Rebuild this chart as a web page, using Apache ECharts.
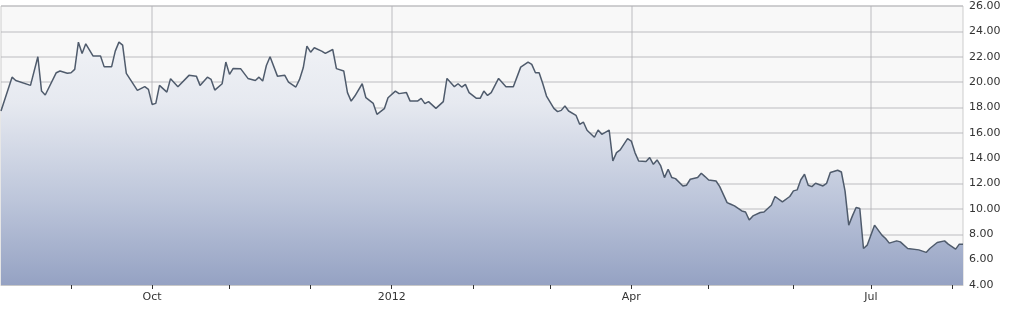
<!DOCTYPE html>
<html>
<head>
<meta charset="utf-8">
<script src="https://cdn.jsdelivr.net/npm/echarts@6/dist/echarts.min.js"></script>
<style>
html,body{margin:0;padding:0;background:#fff;}
#chart{width:1028px;height:314px;}
</style>
</head>
<body>
<div id="chart"></div>
<script>
// Trading-session calendar (weekdays) shown on the x axis
const firstDay = '2011-08-05';
const lastDay = '2012-08-06';

// Quarter labels on the x axis
const quarterDates = ['2011-10-03', '2012-01-02', '2012-04-02', '2012-07-02'];
const quarterLabels = ['Oct', '2012', 'Apr', 'Jul'];

// Y axis ticks
const yMin = 4, yMax = 26, yStep = 2;

// Price readings: session number (from firstDay) and closing price
const sessions = [
  0,3,4,8,10,11,12,15,16,18,19,20,21,22,23,25,27,28,30,31,32,33,34,37,39,40,41,42,43,45,46,48,
  51,53,54,56,57,58,60,61,62,63,65,67,68,69,70,71,72,73,75,77,78,80,81,82,83,84,85,87,88,90,91,93,94,95,96,98,99,
  101,102,104,105,107,108,110,111,113,114,115,116,118,120,121,123,124,125,126,127,129,130,131,132,133,135,137,139,
  141,143,144,145,146,147,148,150,151,152,153,154,156,157,158,159,161,162,163,165,166,167,168,170,171,172,173,175,176,177,178,179,
  180,181,182,183,185,186,187,189,190,191,192,194,195,197,198,199,201,202,203,204,206,207,209,210,212,214,215,216,217,218,219,
  220,221,223,224,225,227,228,229,230,231,232,233,234,235,237,239,240,241,243,244,246,249,251,252,254,256,257,259,260,261
];
const closes = [
  17.72,20.39,20.13,19.74,22.0,19.29,18.98,20.74,20.87,20.69,20.74,21.0,23.15,22.26,23.02,22.05,22.05,21.2,21.2,22.44,23.15,22.91,20.69,19.35,19.64,19.43,18.24,18.32,19.74,19.21,20.27,19.64,
  20.53,20.47,19.74,20.39,20.21,19.37,19.87,21.58,20.61,21.08,21.06,20.29,20.21,20.13,20.39,20.08,21.31,22.0,20.47,20.53,20.0,19.61,20.21,21.13,22.83,22.36,22.71,22.44,22.26,22.57,21.06,20.87,19.17,18.5,18.9,19.87,18.77,
  18.32,17.46,17.9,18.77,19.29,19.09,19.17,18.5,18.5,18.72,18.3,18.46,17.93,18.46,20.29,19.64,19.87,19.61,19.82,19.17,18.72,18.72,19.29,18.95,19.17,20.29,19.64,19.64,
  21.18,21.58,21.4,20.74,20.74,19.87,18.9,17.93,17.67,17.77,18.11,17.72,17.38,16.67,16.85,16.2,15.65,16.22,15.88,16.22,13.78,14.44,14.65,15.54,15.35,14.44,13.78,13.73,14.05,13.52,13.86,13.39,
  12.47,13.13,12.47,12.39,11.81,11.87,12.34,12.47,12.81,12.55,12.28,12.2,11.76,10.5,10.37,10.24,9.84,9.76,9.13,9.45,9.72,9.76,10.29,10.98,10.55,10.98,11.42,11.5,12.3,12.73,11.87,
  11.76,12.02,11.81,12.02,12.87,13.05,12.91,11.4,8.72,9.45,10.11,10.03,6.88,7.14,8.72,7.93,7.67,7.3,7.48,7.4,6.88,6.77,6.57,6.88,7.35,7.48,7.22,6.83,7.22,7.22
];

// Build weekday categories
const dates = [];
(function () {
  const p1 = firstDay.split('-').map(Number), p2 = lastDay.split('-').map(Number);
  let t = Date.UTC(p1[0], p1[1] - 1, p1[2]);
  const end = Date.UTC(p2[0], p2[1] - 1, p2[2]);
  while (t <= end) {
    const d = new Date(t);
    const wd = d.getUTCDay();
    if (wd !== 0 && wd !== 6) dates.push(d.toISOString().slice(0, 10));
    t += 86400000;
  }
})();
const monthStart = new Set();
for (let i = 1; i < dates.length; i++) {
  if (dates[i].slice(0, 7) !== dates[i - 1].slice(0, 7)) monthStart.add(dates[i]);
}
const quarterMap = {};
quarterDates.forEach((d, i) => { quarterMap[d] = quarterLabels[i]; });

const seriesData = sessions.map((s, i) => [s, closes[i]]);

const chart = echarts.init(document.getElementById('chart'), null, { renderer: 'canvas' });
chart.setOption({
  animation: false,
  backgroundColor: '#ffffff',
  textStyle: { fontFamily: 'DejaVu Sans' },
  grid: {
    left: 1, right: 65, top: 6, bottom: 29,
    show: true, backgroundColor: '#f8f8f8', borderColor: '#cdcdcd', borderWidth: 1
  },
  xAxis: {
    type: 'category',
    data: dates,
    boundaryGap: false,
    z: 3,
    axisLine: { show: true, lineStyle: { color: '#c8c8c8', width: 1 } },
    axisTick: {
      show: true, length: 4, inside: false,
      interval: (idx, val) => monthStart.has(val),
      lineStyle: { color: '#333333', width: 1 }
    },
    axisLabel: {
      show: true, margin: 7, fontSize: 11, color: '#333333', fontFamily: 'DejaVu Sans',
      interval: (idx, val) => quarterMap[val] !== undefined,
      formatter: (val) => quarterMap[val] || ''
    },
    splitLine: {
      show: true,
      interval: (idx, val) => quarterMap[val] !== undefined,
      lineStyle: { color: 'rgba(175,175,180,0.55)', width: 1.5 }
    }
  },
  yAxis: {
    type: 'value',
    position: 'right',
    min: yMin, max: yMax, interval: yStep,
    z: 3,
    axisLine: { show: false },
    axisTick: { show: false },
    axisLabel: {
      margin: 6, fontSize: 11, color: '#333333', fontFamily: 'DejaVu Sans',
      formatter: (v) => v.toFixed(2)
    },
    splitLine: { show: true, lineStyle: { color: 'rgba(175,175,180,0.55)', width: 1.5 } }
  },
  series: [{
    type: 'line',
    data: seriesData,
    showSymbol: false,
    symbol: 'none',
    smooth: false,
    lineStyle: { color: '#4f5b6c', width: 1.5 },
    areaStyle: {
      color: new echarts.graphic.LinearGradient(0, 6, 0, 285, [
        { offset: 0, color: '#f6f7f9' },
        { offset: 0.35, color: '#e6e9f0' },
        { offset: 0.7, color: '#bcc5da' },
        { offset: 1, color: '#95a2c3' }
      ], true),
      opacity: 1
    }
  }]
});
</script>
</body>
</html>
